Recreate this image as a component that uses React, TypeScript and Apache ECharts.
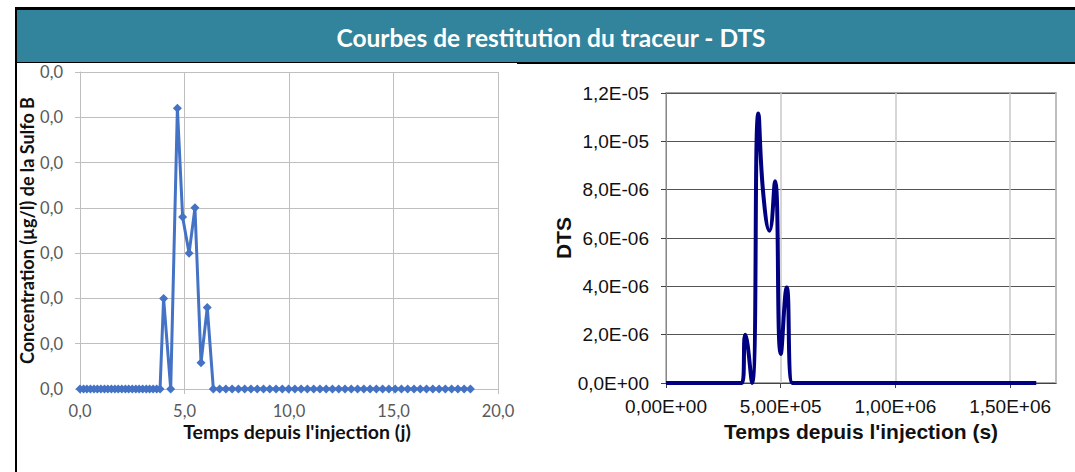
import React, { useEffect, useRef } from 'react';
import * as echarts from 'echarts';

// ---- Left chart: concentration vs time (days) ----
const daysX = [
  0, 0.17, 0.33, 0.5, 0.67, 0.83, 1, 1.17, 1.33, 1.5, 1.67, 1.83, 2, 2.17, 2.33, 2.5, 2.67, 2.83,
  3, 3.17, 3.33, 3.5, 3.67, 3.83, 4.0, 4.34, 4.66, 4.91, 5.22, 5.5, 5.79, 6.09, 6.38, 6.68, 6.98,
  7.28, 7.58, 7.88, 8.18, 8.48, 8.78, 9.08, 9.38, 9.68, 9.98, 10.28, 10.58, 10.88, 11.18, 11.48,
  11.78, 12.08, 12.38, 12.68, 12.98, 13.28, 13.58, 13.88, 14.18, 14.48, 14.78, 15.08, 15.38, 15.68,
  15.98, 16.28, 16.58, 16.88, 17.18, 17.48, 17.78, 18.08, 18.38, 18.68,
];
const concY = [
  0, 0, 0, 0, 0, 0, 0, 0, 0, 0, 0, 0, 0, 0, 0, 0, 0, 0,
  0, 0, 0, 0, 0, 0, 0.010, 0, 0.031, 0.019, 0.015, 0.020, 0.0029, 0.009, 0, 0, 0,
  0, 0, 0, 0, 0, 0, 0, 0, 0, 0, 0, 0, 0, 0, 0,
  0, 0, 0, 0, 0, 0, 0, 0, 0, 0, 0, 0, 0, 0,
  0, 0, 0, 0, 0, 0, 0, 0, 0, 0,
];

// ---- Right chart: DTS vs time (seconds) ----
const dtsSeconds = [
  0, 172800, 302400, 331200, 345600, 374976, 402624, 424224, 451008, 475200, 500256, 526176,
  551232, 577152, 800000, 1200000, 1613952,
];
const dtsValues = [
  0, 0, 0, 0, 2.0e-6, 0, 11.15e-6, 7.8e-6, 6.3e-6, 8.35e-6, 1.2e-6, 3.95e-6,
  0, 0, 0, 0, 0,
];

const titleText = 'Courbes de restitution du traceur - DTS';
const leftXName = "Temps depuis l'injection (j)";
const leftYName = 'Concentration (µg/l) de la Sulfo B';
const rightXName = "Temps depuis l'injection (s)";
const rightYName = 'DTS';

function frDec(v: number, d: number) {
  return v.toFixed(d).replace('.', ',');
}
function sci(v: number, d: number) {
  if (Math.abs(v) < 1e-30) return (0).toFixed(d).replace('.', ',') + 'E+00';
  const s = v.toExponential(d);
  const [m, e] = s.split('e');
  const n = parseInt(e, 10);
  return m.replace('.', ',') + 'E' + (n < 0 ? '-' : '+') + String(Math.abs(n)).padStart(2, '0');
}

export default function App() {
  const ref = useRef<HTMLDivElement>(null);
  useEffect(() => {
    if (!ref.current) return;
    const chart = echarts.init(ref.current, undefined, { renderer: 'svg' });
    const leftFont = 'Lato, "Open Sans", sans-serif';
    const rightFont = '"Liberation Sans", Arial, sans-serif';
    chart.setOption({
      animation: false,
      backgroundColor: '#ffffff',
      graphic: [
        { type: 'rect', shape: { x: 15, y: 7, width: 1060, height: 57 }, style: { fill: '#000' }, silent: true },
        { type: 'rect', shape: { x: 17, y: 10, width: 1058, height: 52 }, style: { fill: '#31849b' }, silent: true },
        { type: 'rect', shape: { x: 17, y: 63, width: 500, height: 10 }, style: { fill: '#fff' }, silent: true },
        { type: 'rect', shape: { x: 15, y: 62, width: 2, height: 410 }, style: { fill: '#000' }, silent: true },
        {
          type: 'text',
          x: 551,
          y: 37,
          style: {
            text: titleText,
            fill: '#ffffff',
            font: 'bold 24.5px ' + leftFont,
            textAlign: 'center',
            textVerticalAlign: 'middle',
          },
          silent: true,
        },
      ],
      grid: [
        { left: 80, top: 72, width: 418, height: 317, containLabel: false },
        { left: 666, top: 93, width: 390, height: 290, containLabel: false, show: true, borderColor: '#888', borderWidth: 1.5 },
      ],
      xAxis: [
        {
          gridIndex: 0,
          type: 'value',
          min: 0,
          max: 20,
          interval: 5,
          name: leftXName,
          nameLocation: 'middle',
          nameGap: 32,
          nameMoveOverlap: false,
          nameTextStyle: { fontFamily: leftFont, fontWeight: 'bold', fontSize: 19.5, color: '#111', padding: [0, 0, 0, 16] },
          axisLine: { show: true, lineStyle: { color: '#bfbfbf', width: 1 } },
          axisTick: { show: true, length: 5, lineStyle: { color: '#bfbfbf' } },
          axisLabel: { margin: 13, fontFamily: leftFont, fontSize: 16.5, color: '#595959', formatter: (v: number) => frDec(v, 1) },
          splitLine: { show: true, lineStyle: { color: '#bfbfbf', width: 1 } },
        },
        {
          gridIndex: 1,
          type: 'value',
          min: 0,
          max: 1.7e6,
          interval: 5e5,
          name: rightXName,
          nameLocation: 'middle',
          nameGap: 38,
          nameTextStyle: { fontFamily: rightFont, fontWeight: 'bold', fontSize: 21, color: '#111' },
          axisLine: { show: true, lineStyle: { color: '#444', width: 1 } },
          axisTick: { show: true, length: 5, lineStyle: { color: '#444' } },
          axisLabel: {
            margin: 14,
            fontFamily: rightFont,
            fontSize: 19,
            color: '#111',
            showMaxLabel: false,
            formatter: (v: number) => {
              const k = v / 5e5;
              if (Math.abs(k - Math.round(k)) > 1e-6) return '';
              return sci(v, 2);
            },
          },
          splitLine: { show: true, lineStyle: { color: '#c8c8c8', width: 1.5 } },
        },
      ],
      yAxis: [
        {
          gridIndex: 0,
          type: 'value',
          min: 0,
          max: 0.035,
          interval: 0.005,
          name: leftYName,
          nameLocation: 'middle',
          nameGap: 43,
          nameTextStyle: { fontFamily: leftFont, fontWeight: 'bold', fontSize: 18, color: '#111' },
          axisLine: { show: true, lineStyle: { color: '#bfbfbf', width: 1 } },
          axisTick: { show: true, length: 5, lineStyle: { color: '#bfbfbf' } },
          axisLabel: { margin: 17, fontFamily: leftFont, fontSize: 16.5, color: '#595959', formatter: (v: number) => frDec(v, 1) },
          splitLine: { show: true, lineStyle: { color: '#bfbfbf', width: 1 } },
        },
        {
          gridIndex: 1,
          type: 'value',
          min: 0,
          max: 1.2e-5,
          interval: 2e-6,
          name: rightYName,
          nameLocation: 'middle',
          nameGap: 90,
          nameTextStyle: { fontFamily: rightFont, fontWeight: 'bold', fontSize: 21, color: '#111' },
          axisLine: { show: true, lineStyle: { color: '#888', width: 1 } },
          axisTick: { show: true, length: 5, lineStyle: { color: '#444' } },
          axisLabel: { margin: 17, fontFamily: rightFont, fontSize: 19, color: '#111', formatter: (v: number) => sci(v, 1) },
          splitLine: { show: true, lineStyle: { color: '#555', width: 1.2 } },
        },
      ],
      series: [
        {
          type: 'line',
          xAxisIndex: 0,
          yAxisIndex: 0,
          data: daysX.map((x, i) => [x, concY[i]]),
          symbol: 'diamond',
          symbolSize: 9,
          showSymbol: true,
          lineStyle: { color: '#4472c4', width: 3 },
          itemStyle: { color: '#4472c4' },
          clip: true,
        },
        {
          type: 'line',
          xAxisIndex: 1,
          yAxisIndex: 1,
          data: dtsSeconds.map((x, i) => [x, dtsValues[i]]),
          smooth: 0.5,
          symbol: 'none',
          showSymbol: false,
          lineStyle: { color: '#000080', width: 4 },
          itemStyle: { color: '#000080' },
          clip: true,
        },
      ],
    });
    return () => chart.dispose();
  }, []);
  return (
    <div
      ref={ref}
      style={{ position: 'fixed', left: 0, top: 0, width: 1075, height: 472, background: '#fff' }}
    />
  );
}
